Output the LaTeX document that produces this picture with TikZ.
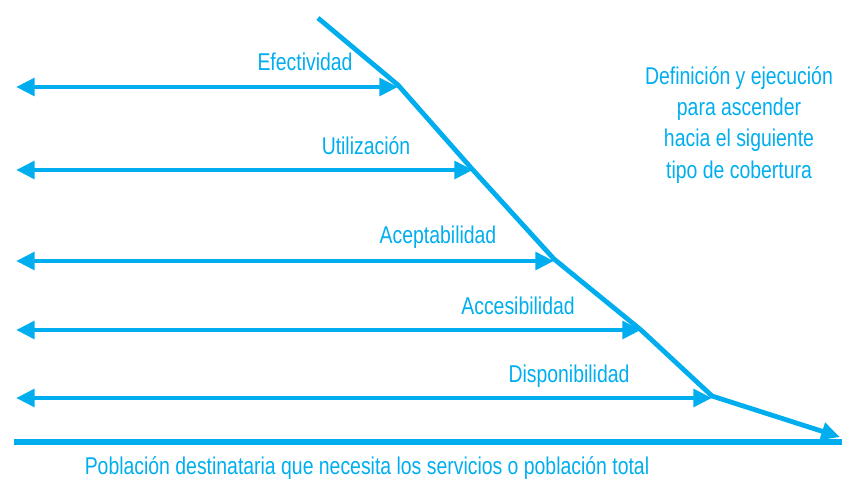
\documentclass[tikz,border=0pt]{standalone}
\usepackage{fontspec}
\setmainfont[FakeStretch=0.8]{Liberation Sans}
\usetikzlibrary{arrows.meta}
\definecolor{CovCyan}{HTML}{00AEEF}

\begin{document}
\begin{tikzpicture}[
  x=0.75pt, y=-0.75pt,
  tier/.style={line width=3.6pt, CovCyan,
               {Triangle[length=14pt, width=13pt]}-{Triangle[length=14pt, width=13pt]}},
  tierlabel/.style={font=\fontsize{18.2}{20}\selectfont, text=CovCyan, inner sep=0pt},
  >={Triangle[length=14pt, width=13pt]}
]
  \useasboundingbox (0,0) rectangle (842,482);

  % corners of the coverage curve
  \coordinate (top) at (318,18);
  \coordinate (eff) at (398,85);
  \coordinate (uti) at (473,170);
  \coordinate (ace) at (554,259);
  \coordinate (acc) at (641,330);
  \coordinate (dis) at (712,396);
  \coordinate (end) at (840,437);

  \coordinate (effL) at (16,87);
  \coordinate (utiL) at (16,170);
  \coordinate (aceL) at (16,261);
  \coordinate (accL) at (16,330);
  \coordinate (disL) at (16,398);

  % tiers
  \draw[tier] (effL) -- (effL -| eff);
  \draw[tier] (utiL) -- (utiL -| uti);
  \draw[tier] (aceL) -- (aceL -| ace);
  \draw[tier] (accL) -- (accL -| acc);
  \draw[tier] (disL) -- (disL -| dis);

  \draw[line width=3.6pt, CovCyan, line join=round, ->]
    (top) -- (eff) -- (uti) -- (ace) -- (acc) -- (dis) -- (end);

  % base line
  \coordinate (baseL) at (14,442);
  \coordinate (baseR) at (842,442);
  \draw[line width=3.8pt, CovCyan] (baseL) -- (baseR);

  \node[tierlabel] (efflab) at (305,62)  {Efectividad};
  \node[tierlabel] (utilab) at (366,146) {Utilización};
  \node[tierlabel] (acelab) at (438,237) {Aceptabilidad};
  \node[tierlabel] (acclab) at (518,306) {Accesibilidad};
  \node[tierlabel] (dislab) at (569,376) {Disponibilidad};

  \node[tierlabel, align=center, font=\fontsize{18.2}{23.3}\selectfont] (next) at (739,125)
    {Definición y ejecución\\para ascender\\hacia el siguiente\\tipo de cobertura};

  \node[tierlabel] (pop) at (367,468)
    {Población destinataria que necesita los servicios o población total};
\end{tikzpicture}
\end{document}
